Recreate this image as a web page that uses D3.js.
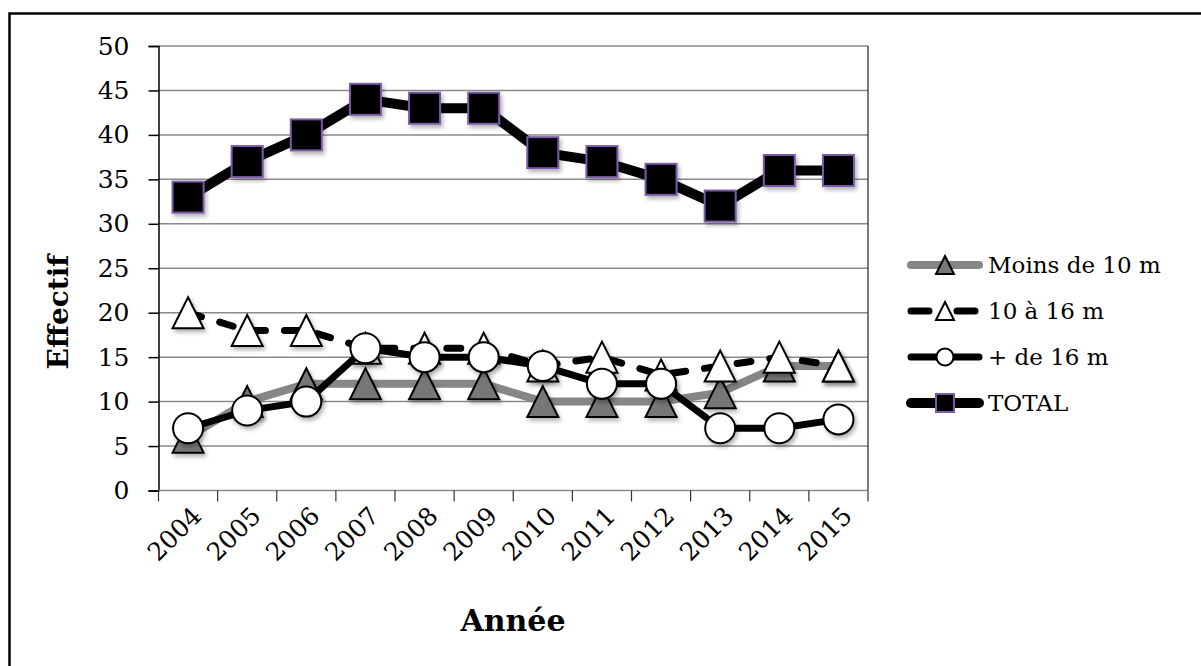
<!DOCTYPE html>
<html>
<head>
<meta charset="utf-8">
<script src="https://cdn.jsdelivr.net/npm/d3@7"></script>
<style>
  html, body { margin: 0; padding: 0; background: #fff; }
  svg { display: block; }
  text { font-family: "DejaVu Serif", "Liberation Serif", serif; fill: #000; }
</style>
</head>
<body>
<svg id="chart" width="1201" height="666"></svg>
<script>
// Fishing fleet headcount by vessel length, 2004-2015
const years = ["2004","2005","2006","2007","2008","2009","2010","2011","2012","2013","2014","2015"];
const moins10 = [6, 10, 12, 12, 12, 12, 10, 10, 10, 11, 14, 14];
const de10a16 = [20, 18, 18, 16, 16, 16, 14, 15, 13, 14, 15, 14];
const plus16  = [7, 9, 10, 16, 15, 15, 14, 12, 12, 7, 7, 8];
const total   = [33, 37, 40, 44, 43, 43, 38, 37, 35, 32, 36, 36];
const yTicks  = [0, 5, 10, 15, 20, 25, 30, 35, 40, 45, 50];
const seriesNames = ["Moins de 10 m", "10 à 16 m", "+ de 16 m", "TOTAL"];

const svg = d3.select("#chart");

// soft shadow under the markers
const defs = svg.append("defs");
const f = defs.append("filter").attr("id", "shadow")
  .attr("x", "-50%").attr("y", "-50%").attr("width", "200%").attr("height", "200%");
f.append("feDropShadow").attr("dx", 2).attr("dy", 3).attr("stdDeviation", 2)
  .attr("flood-color", "#000").attr("flood-opacity", 0.3);

// outer frame (left and top edges)
svg.append("path")
  .attr("d", "M9.5,666 L9.5,13.5 L1201,13.5")
  .attr("fill", "none").attr("stroke", "#000").attr("stroke-width", 2.5);

const plotLeft = 158.5, plotRight = 868, plotTop = 46, plotBottom = 490.5;
const x = d3.scaleBand().domain(years).range([plotLeft, plotRight]);
const y = d3.scaleLinear().domain([0, 50]).range([plotBottom, plotTop]);
const cx = d => x(d) + x.bandwidth() / 2;

// horizontal gridlines
svg.append("g").selectAll("line").data(yTicks.filter(v => v > 0)).join("line")
  .attr("x1", plotLeft).attr("x2", plotRight)
  .attr("y1", d => y(d)).attr("y2", d => y(d))
  .attr("stroke", "#8a8a8a").attr("stroke-width", 1.5);

// right edge of the plot area
svg.append("line").attr("x1", plotRight).attr("x2", plotRight).attr("y1", plotTop).attr("y2", plotBottom)
  .attr("stroke", "#222").attr("stroke-width", 1.2);

// y axis
const yAxis = svg.append("g").attr("transform", `translate(${plotLeft},0)`)
  .call(d3.axisLeft(y).tickValues(yTicks).tickSize(10).tickPadding(19).tickFormat(d3.format("d")));
yAxis.select(".domain").attr("stroke", "#000").attr("stroke-width", 1.5);
yAxis.selectAll(".tick line").attr("stroke", "#000").attr("stroke-width", 1.5);
yAxis.selectAll(".tick text").attr("font-family", "DejaVu Serif").attr("font-size", 25).attr("fill", "#000");

// x axis: baseline, ticks at category boundaries, rotated year labels
const xg = svg.append("g");
xg.append("line").attr("x1", plotLeft).attr("x2", plotRight).attr("y1", plotBottom).attr("y2", plotBottom)
  .attr("stroke", "#8a8a8a").attr("stroke-width", 1.5);
const bounds = years.map(d => x(d)).concat([x(years[years.length - 1]) + x.bandwidth()]);
xg.selectAll("line.tk").data(bounds).join("line").attr("class", "tk")
  .attr("x1", d => d).attr("x2", d => d).attr("y1", plotBottom).attr("y2", plotBottom + 11)
  .attr("stroke", "#333").attr("stroke-width", 1.2);
xg.selectAll("text").data(years).join("text")
  .attr("transform", d => `translate(${cx(d) + 15},${plotBottom + 27}) rotate(-45)`)
  .attr("text-anchor", "end").attr("font-size", 25)
  .text(d => d);

// axis titles
svg.append("text").attr("transform", "translate(68,312) rotate(-90)")
  .attr("text-anchor", "middle").attr("font-weight", "bold").attr("font-size", 28)
  .text("Effectif");
svg.append("text").attr("x", 513).attr("y", 631)
  .attr("text-anchor", "middle").attr("font-weight", "bold").attr("font-size", 30)
  .text("Année");

// marker shapes
function triPath(w, h) { return `M0,${-h/2} L${w/2},${h/2} L${-w/2},${h/2} Z`; }

const styles = [
  { values: moins10, line: "#868686", width: 8, dash: null, marker: "tri", fill: "#777", stroke: "#000" },
  { values: de10a16, line: "#000", width: 7, dash: "14,19", marker: "tri", fill: "#fff", stroke: "#000" },
  { values: plus16,  line: "#000", width: 7, dash: null, marker: "circle", fill: "#fff", stroke: "#000" },
  { values: total,   line: "#000", width: 10, dash: null, marker: "square", fill: "#000", stroke: "#7a5ba6" }
];

function drawMarker(g, s, size) {
  if (s.marker === "tri") {
    g.append("path").attr("d", triPath(size, size))
      .attr("fill", s.fill).attr("stroke", s.stroke).attr("stroke-width", 2);
  } else if (s.marker === "circle") {
    g.append("circle").attr("r", size / 2)
      .attr("fill", s.fill).attr("stroke", s.stroke).attr("stroke-width", 2);
  } else {
    g.append("rect").attr("x", -size / 2).attr("y", -size / 2).attr("width", size).attr("height", size)
      .attr("fill", s.fill).attr("stroke", s.stroke).attr("stroke-width", 2);
  }
}

const line = d3.line().x((d, i) => cx(years[i])).y(d => y(d));

styles.forEach(s => {
  const g = svg.append("g");
  g.append("path").attr("d", line(s.values))
    .attr("fill", "none").attr("stroke", s.line).attr("stroke-width", s.width)
    .attr("stroke-linecap", "round").attr("stroke-linejoin", "round")
    .attr("stroke-dasharray", s.dash);
  s.values.forEach((v, i) => {
    const m = g.append("g").attr("transform", `translate(${cx(years[i])},${y(v)})`)
      .attr("filter", "url(#shadow)");
    drawMarker(m, s, s.marker === "circle" ? 30 : 31);
  });
});

// legend
const legendY = [265, 311, 357, 403];
styles.forEach((s, i) => {
  const g = svg.append("g").attr("transform", `translate(0,${legendY[i]})`);
  g.append("line").attr("x1", 911).attr("x2", 979).attr("y1", 0).attr("y2", 0)
    .attr("stroke", s.line).attr("stroke-width", s.width)
    .attr("stroke-linecap", "round")
    .attr("stroke-dasharray", s.dash ? "18,28" : null);
  const m = g.append("g").attr("transform", "translate(945,0)");
  drawMarker(m, s, s.marker === "circle" ? 17 : 18);
  g.append("text").attr("x", 988).attr("y", 0).attr("dy", "0.35em")
    .attr("font-size", 23).text(seriesNames[i]);
});
</script>
</body>
</html>
